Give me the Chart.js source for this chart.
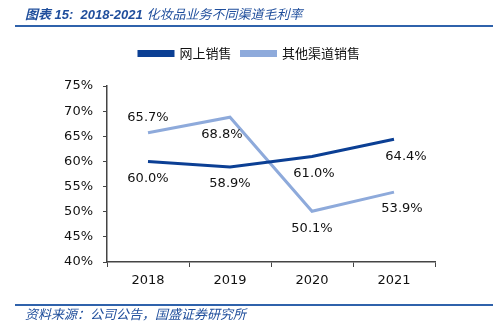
<!DOCTYPE html>
<html>
<head>
<meta charset="utf-8">
<script src="https://cdn.jsdelivr.net/npm/chart.js@4/dist/chart.umd.min.js"></script>
<style>
  html, body { margin: 0; padding: 0; background: #fff; }
  #wrap { position: relative; width: 497px; height: 335px; overflow: hidden; }
  #chart { position: absolute; left: 0; top: 0; }
  .title { position: absolute; left: 25px; top: 4px; font: italic bold 13px "Liberation Sans", "Noto Sans CJK SC", sans-serif; color: #1f4e9c; white-space: nowrap; }
  .title .cn { font-family: "Noto Sans CJK SC", sans-serif; font-weight: normal; }
  .rule { position: absolute; left: 15px; width: 478px; height: 2px; background: #2f62ab; }
  .source { position: absolute; left: 25px; top: 304px; font: italic 13px "Noto Sans CJK SC", sans-serif; color: #1f4e9c; white-space: nowrap; }
</style>
</head>
<body>
<div id="wrap">
  <canvas id="chart" width="497" height="335"></canvas>
  <div class="title">图表 15:&nbsp; 2018-2021 <span class="cn">化妆品业务不同渠道毛利率</span></div>
  <div class="rule" style="top:25px"></div>
  <div class="rule" style="top:304px"></div>
  <div class="source">资料来源：公司公告，国盛证券研究所</div>
</div>
<script>
// Data
const years = ['2018', '2019', '2020', '2021'];
const onlineMargin = [60.0, 58.9, 61.0, 64.4];
const otherMargin = [65.7, 68.8, 50.1, 53.9];
const seriesNames = ['网上销售', '其他渠道销售'];

const darkBlue = '#0b3f94';
const lightBlue = '#8eaadb';
const axisColor = '#444';
const tickFont = { family: 'DejaVu Sans', size: 13 };

// where each value label sits: 'above' or 'below' the point
const labelSide = [
    ['below', 'below', 'below', 'below'],
    ['above', 'below', 'below', 'below']
];
const labelShiftX = [
    [0, 0, 2, 12],
    [0, -8, 0, 8]
];

// draws the value labels next to the points
const valueLabels = {
    id: 'valueLabels',
    afterDatasetsDraw(chart) {
        const ctx = chart.ctx;
        ctx.save();
        ctx.font = '13px "DejaVu Sans"';
        ctx.fillStyle = '#111';
        ctx.textAlign = 'center';
        ctx.textBaseline = 'middle';
        chart.data.datasets.forEach((ds, i) => {
            chart.getDatasetMeta(i).data.forEach((pt, j) => {
                const dy = labelSide[i][j] === 'above' ? -15 : 17;
                ctx.fillText(ds.data[j].toFixed(1) + '%', pt.x + labelShiftX[i][j], pt.y + dy);
            });
        });
        ctx.restore();
    }
};

// extra space under the legend, and nudge it right over the plot
const legendGap = {
    id: 'legendGap',
    beforeInit(chart) {
        const fit = chart.legend.fit;
        chart.legend.fit = function () {
            fit.bind(chart.legend)();
            this.height += 16;
        };
    },
    afterLayout(chart) {
        chart.legend.left += 22;
        chart.legend.right += 22;
    }
};

new Chart(document.getElementById('chart').getContext('2d'), {
    type: 'line',
    data: {
        labels: years,
        datasets: [{
            label: seriesNames[0],
            data: onlineMargin,
            borderColor: darkBlue,
            backgroundColor: darkBlue,
            borderWidth: 3,
            pointRadius: 0,
            tension: 0
        }, {
            label: seriesNames[1],
            data: otherMargin,
            borderColor: lightBlue,
            backgroundColor: lightBlue,
            borderWidth: 3,
            pointRadius: 0,
            tension: 0
        }]
    },
    options: {
        responsive: false,
        animation: false,
        layout: { padding: { left: 20, right: 62, top: 37, bottom: 38 } },
        plugins: {
            legend: {
                position: 'top',
                labels: {
                    boxWidth: 34,
                    boxHeight: 4,
                    padding: 10,
                    color: '#111',
                    font: { family: 'Noto Sans CJK SC', size: 13 }
                }
            },
            tooltip: { enabled: false }
        },
        scales: {
            x: {
                offset: true,
                grid: { offset: true, drawOnChartArea: false, tickLength: 5, color: axisColor },
                border: { color: axisColor, width: 1.5 },
                ticks: { color: '#111', font: tickFont, padding: 6 },
                afterFit(scale) { scale.height = 35; }
            },
            y: {
                min: 40,
                max: 75,
                grid: { drawOnChartArea: false, tickLength: 4, color: axisColor },
                border: { color: axisColor, width: 1.5 },
                ticks: {
                    stepSize: 5,
                    color: '#111',
                    font: tickFont,
                    padding: 10,
                    callback: v => v + '%'
                },
                afterFit(scale) { scale.width = 87; }
            }
        }
    },
    plugins: [valueLabels, legendGap]
});
</script>
</body>
</html>
